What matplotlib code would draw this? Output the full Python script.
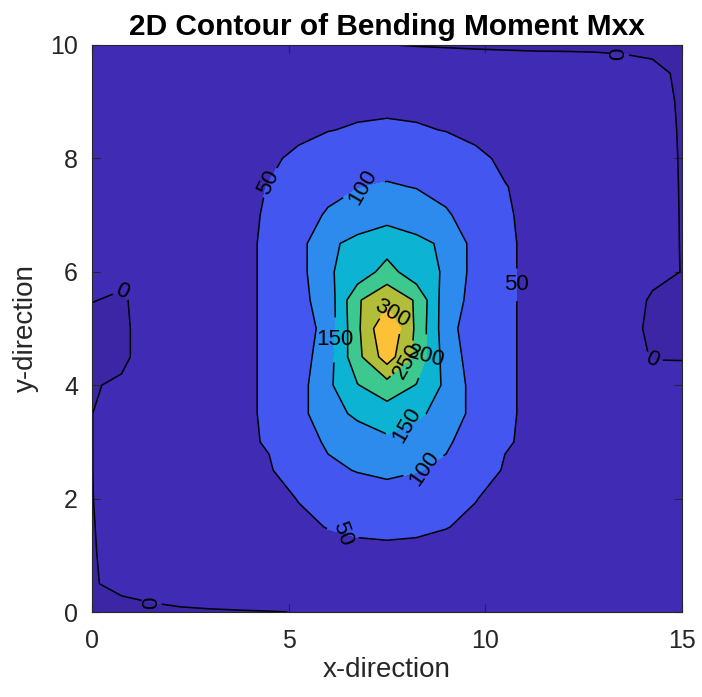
import numpy as np
import matplotlib
matplotlib.use("Agg")
import matplotlib.pyplot as plt
from matplotlib.colors import ListedColormap, BoundaryNorm

# Plate grid (x: 0..15, y: 0..10)
x_coords = np.linspace(0, 15, 21)
y_coords = np.linspace(0, 10, 21)

# Bending moment Mxx at grid nodes, one row per y value (y = 0 first)
mxx = [
    [-4, -4, -3, -2, -1.5, -1, -0.5, 0.3, 0.3, 0.3, 0.3, 0.3, 0.3, 0.3, 0.3, 0.3, 0.3, 0.3, 0.3, 0.3, 0.3],
    [-1, 3, 6, 9, 12, 14, 16, 18, 19, 20, 20, 20, 19, 18, 16, 14, 12, 9, 6, 3, 0.3],
    [-1, 5, 11, 16, 21, 26, 31, 35, 38, 40, 41, 40, 38, 35, 31, 26, 21, 16, 11, 5, 0.3],
    [-0.6, 5, 11, 17, 23, 29, 36, 44, 51, 56, 58, 56, 51, 44, 36, 29, 23, 17, 11, 5, 0.3],
    [-0.3, 6, 12, 19, 25, 32, 40, 51, 68, 77, 81, 77, 68, 51, 40, 32, 25, 19, 12, 6, 0.3],
    [-0.2, 7, 14, 22, 30, 38, 46, 74, 92, 102, 109, 102, 92, 74, 46, 38, 30, 22, 14, 7, 0.3],
    [-0.2, 8, 17, 26, 34, 43, 53, 80, 106, 130, 140, 130, 106, 80, 53, 43, 34, 26, 17, 8, 0.3],
    [-0.2, 8, 17, 26, 35, 44, 54, 82, 136, 157, 177, 157, 136, 82, 54, 44, 35, 26, 17, 8, 0.3],
    [-1, 2, 17, 26, 35, 44, 54, 80, 140, 198, 230, 198, 140, 80, 54, 44, 35, 26, 17, 8, 2],
    [-4, -3, 7, 19, 31, 44, 54, 76, 128, 236, 325, 236, 128, 76, 54, 44, 32, 19, 7, -1, -0.3],
    [-5, -3, 7, 19, 31, 44, 54, 70, 120, 240, 350, 240, 120, 70, 54, 44, 31, 19, 6, -3, -5],
    [0.5, -2, 7, 19, 31, 44, 54, 87, 120, 245, 285, 245, 120, 87, 54, 44, 32, 20, 8, -2, -3],
    [0.3, 4, 17, 26, 35, 44, 54, 81, 146, 165, 222, 165, 146, 81, 54, 44, 35, 26, 17, 4, -0.3],
    [0.3, 8, 17, 26, 35, 44, 54, 82, 143, 160, 173, 160, 143, 82, 54, 44, 35, 26, 17, 8, -0.8],
    [0.3, 8, 16, 25, 34, 43, 53, 80, 105, 128, 137, 128, 105, 80, 53, 43, 34, 25, 16, 8, -0.9],
    [0.3, 7, 15, 24, 33, 42, 51, 72, 87, 98, 105, 98, 87, 72, 51, 42, 33, 24, 15, 7, -0.95],
    [0.3, 6, 13, 21, 29, 37, 45, 56, 68, 76, 79, 76, 68, 56, 45, 37, 29, 21, 13, 6, -1],
    [0.3, 5, 11, 17, 23, 29, 36, 43, 49, 53, 55, 53, 49, 43, 36, 29, 23, 17, 11, 5, -1.1],
    [0.3, 4, 10, 16, 22, 27, 32, 37, 40, 42, 43, 42, 40, 37, 32, 27, 22, 16, 10, 4, -1.3],
    [0.3, 3, 6, 9, 12, 14, 16, 18, 19, 20, 20, 20, 19, 18, 16, 14, 12, 9, 6, 3, -2],
    [0.3, 0.3, 0.3, 0.3, 0.3, 0.3, 0.3, 0.3, 0.3, 0.3, 0.3,
     -1, -2, -3, -3.5, -3.8, -3.5, -3, -2.8, -3, -4],
]

line_levels = [0, 50, 100, 150, 200, 250, 300]
band_colors = ["#3c26a6", "#402bb4", "#4456f0", "#2e8bee", "#0db3d2",
               "#3cc88f", "#b2bd3a", "#fcc136"]

# Inline labels: (level, anchor x, anchor y, text rotation or None for along-line)
label_specs = [
    (50, 4.45, 7.6, None), (100, 6.9, 7.45, 60), (50, 10.76, 5.77, 0),
    (0, 0.76, 5.65, None), (300, 7.6, 5.25, -30), (150, 6.13, 4.8, 0),
    (250, 7.83, 4.57, 60), (200, 8.6, 4.5, -15), (150, 7.9, 3.44, 60),
    (100, 8.34, 2.65, 55), (50, 6.38, 1.4, -70), (0, 14.2, 4.36, None),
    (0, 1.5, 0.09, 90), (0, 13.4, 9.85, 90),
]

Z = np.array(mxx, dtype=float)
X, Y = np.meshgrid(x_coords, y_coords)

plt.rcParams["font.family"] = ["Liberation Sans", "DejaVu Sans"]
fig = plt.figure(figsize=(7.02, 6.97), dpi=100)
ax = fig.add_axes([92/702, 85/697, 590/702, 567/697])

fill_levels = [Z.min() - 1] + line_levels + [Z.max() + 1]
cmap = ListedColormap(band_colors)
norm = BoundaryNorm(fill_levels, cmap.N)
ax.contourf(X, Y, Z, levels=fill_levels, cmap=cmap, norm=norm)

# One contour set per level so each gets its own inline labels
for lev in line_levels:
    cs = ax.contour(X, Y, Z, levels=[lev], colors="black", linewidths=1.1)
    specs = [s for s in label_specs if s[0] == lev]
    if not specs:
        continue
    texts = ax.clabel(cs, inline=True, fontsize=16, fmt="%d",
                      manual=[(s[1], s[2]) for s in specs], inline_spacing=4)
    for t, s in zip(texts, specs):
        if s[3] is not None:
            t.set_rotation(s[3])

ax.set_xlim(0, 15)
ax.set_ylim(0, 10)
ax.set_xticks([0, 5, 10, 15])
ax.set_yticks([0, 2, 4, 6, 8, 10])
ax.tick_params(direction="in", length=6, width=0.8, colors="#262626",
               labelsize=18, top=True, right=True)
ax.tick_params(axis="x", pad=12)
ax.tick_params(axis="y", pad=10)
for s in ax.spines.values():
    s.set_color("#262626")
    s.set_linewidth(0.8)
ax.set_title("2D Contour of Bending Moment Mxx", fontsize=21.5,
             fontweight="bold", color="black", pad=7)
ax.set_xlabel("x-direction", fontsize=20, color="#262626", labelpad=3)
ax.set_ylabel("y-direction", fontsize=20, color="#262626", labelpad=8)

fig.savefig("out.png", dpi=100)
